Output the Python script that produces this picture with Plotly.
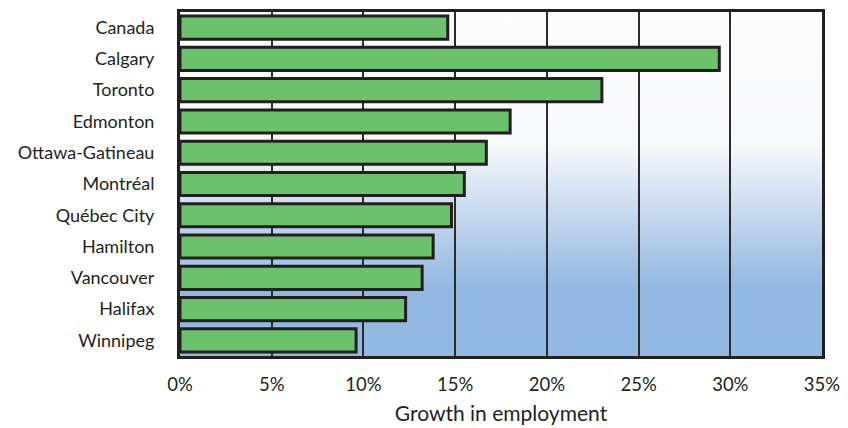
import plotly.graph_objects as go
import urllib.parse

# Employment growth by census metropolitan area (percent)
cities = ["Canada", "Calgary", "Toronto", "Edmonton", "Ottawa-Gatineau", "Montréal",
          "Québec City", "Hamilton", "Vancouver", "Halifax", "Winnipeg"]
growth = [14.6, 29.4, 23.0, 18.0, 16.7, 15.5, 14.8, 13.8, 13.2, 12.3, 9.6]

tick_vals = [0, 5, 10, 15, 20, 25, 30, 35]
tick_text = ["0%", "5%", "10%", "15%", "20%", "25%", "30%", "35%"]

font_family = "Lato, 'Open Sans', sans-serif"
ink = "#231f20"

# Vertical white-to-blue background for the plotting area
gradient_svg = (
    "<svg xmlns='http://www.w3.org/2000/svg' width='100' height='100' preserveAspectRatio='none'>"
    "<defs><linearGradient id='g' x1='0' y1='0' x2='0' y2='1'>"
    "<stop offset='0' stop-color='#fcfcfc'/>"
    "<stop offset='0.38' stop-color='#f8f9fb'/>"
    "<stop offset='0.80' stop-color='#93b8e2'/>"
    "<stop offset='1' stop-color='#93b8e2'/>"
    "</linearGradient></defs>"
    "<rect width='100' height='100' fill='url(#g)'/></svg>"
)
gradient_uri = "data:image/svg+xml;charset=utf-8," + urllib.parse.quote(gradient_svg)

fig = go.Figure()
fig.add_trace(go.Bar(
    x=growth,
    y=cities,
    orientation="h",
    marker=dict(color="#6cc16c", line=dict(color=ink, width=3)),
    width=0.74,
    hoverinfo="x+y",
))

fig.add_layout_image(dict(
    source=gradient_uri,
    xref="paper", yref="paper",
    x=0, y=1, sizex=1, sizey=1,
    xanchor="left", yanchor="top",
    sizing="stretch", layer="below",
))

fig.update_layout(
    width=848, height=428,
    margin=dict(l=180, r=26, t=12, b=72),
    paper_bgcolor="white",
    plot_bgcolor="rgba(0,0,0,0)",
    showlegend=False,
    font=dict(family=font_family, color=ink, size=18),
    xaxis=dict(
        range=[0, 35],
        tickvals=tick_vals,
        ticktext=tick_text,
        showgrid=True,
        gridcolor="#2b2b2b",
        gridwidth=2,
        zeroline=False,
        showline=True,
        linecolor=ink,
        linewidth=3,
        mirror=True,
        ticks="",
        ticklabelstandoff=10,
        tickfont=dict(size=18.5),
        title=dict(text="Growth in employment", font=dict(size=21), standoff=13),
        automargin=False,
        fixedrange=True,
    ),
    yaxis=dict(
        categoryorder="array",
        categoryarray=cities[::-1],
        autorange=False,
        range=[-0.5, len(cities) - 0.5],
        showgrid=False,
        zeroline=False,
        showline=True,
        linecolor=ink,
        linewidth=3,
        mirror=True,
        ticks="",
        ticklabelstandoff=19,
        tickfont=dict(size=18),
        automargin=False,
        fixedrange=True,
    ),
)

fig.write_html("out.html")
